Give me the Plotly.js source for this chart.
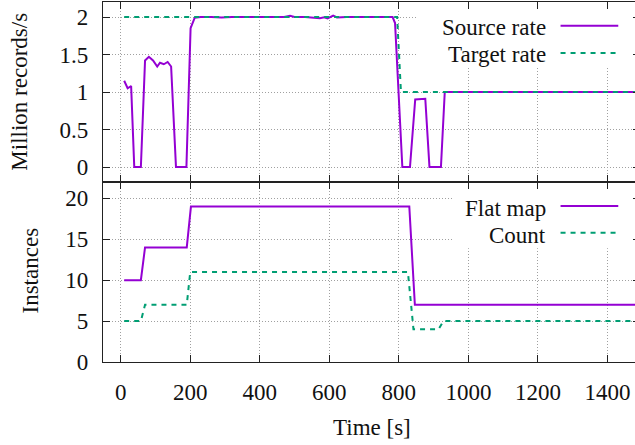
<!DOCTYPE html>
<html>
<head>
<meta charset="utf-8">
<script src="https://cdn.plot.ly/plotly-3.0.1.min.js"></script>
<style>
  html, body { margin: 0; padding: 0; overflow: hidden; background: #fff; }
  #chart { width: 645px; height: 445px; }
</style>
</head>
<body>
<div id="chart"></div>
<script>
// Upper panel: ingestion rates (million records per second)
const sourceTime = [10, 20, 30, 39, 58, 70, 81, 93, 105, 113, 124, 135, 145, 159, 189, 201, 213,
  230, 260, 290, 320, 350, 380, 410, 440, 470, 487, 500, 530, 560, 573, 585, 595, 611, 622,
  650, 680, 710, 740, 770, 782, 789, 810, 832, 847, 876, 888, 921, 932,
  1000, 1100, 1200, 1300, 1400, 1495];
const sourceRate = [1.15, 1.05, 1.08, 0, 0, 1.42, 1.47, 1.42, 1.34, 1.39, 1.37, 1.40, 1.34, 0, 0, 1.85, 1.99,
  2.0, 2.0, 1.995, 2.0, 2.0, 2.0, 1.995, 2.0, 2.0, 2.015, 2.0, 2.0, 1.995, 1.985, 1.995, 1.98, 2.02, 1.995,
  2.0, 2.0, 2.0, 2.0, 2.0, 2.0, 1.92, 0, 0, 0.90, 0.91, 0, 0, 1.0,
  1.0, 1.0, 1.0, 1.0, 1.0, 1.0];
const targetTime = [10, 795, 806, 1495];
const targetRate = [2, 2, 1, 1];

// Lower panel: operator parallelism
const flatMapTime = [10, 58, 70, 190, 202, 830, 846, 1495];
const flatMapInstances = [10, 10, 14, 14, 19, 19, 7, 7];
const countTime = [10, 58, 70, 190, 200, 826, 842, 914, 928, 1495];
const countInstances = [5, 5, 7, 7, 11, 11, 4, 4, 5, 5];

const xTicks = [0, 200, 400, 600, 800, 1000, 1200, 1400];
const rateTicks = [0, 0.5, 1, 1.5, 2];
const rateTickText = ['0', '0.5', '1', '1.5', '2'];
const instanceTicks = [0, 5, 10, 15, 20];

const legendTop = ['Source rate', 'Target rate'];
const legendBottom = ['Flat map', 'Count'];

const PURPLE = '#9400d3';
const GREEN = '#009e73';
const FONT = '"Liberation Serif", "Times New Roman", serif';
const FS = 23;
const DASH = '5px,5px';
const XR = [-50.9, 1493.5];

const traces = [
  { x: sourceTime, y: sourceRate, xaxis: 'x2', yaxis: 'y2', mode: 'lines',
    line: { color: PURPLE, width: 2 }, name: legendTop[0] },
  { x: targetTime, y: targetRate, xaxis: 'x2', yaxis: 'y2', mode: 'lines',
    line: { color: GREEN, width: 2, dash: DASH }, name: legendTop[1] },
  { x: flatMapTime, y: flatMapInstances, xaxis: 'x', yaxis: 'y', mode: 'lines',
    line: { color: PURPLE, width: 2 }, name: legendBottom[0] },
  { x: countTime, y: countInstances, xaxis: 'x', yaxis: 'y', mode: 'lines',
    line: { color: GREEN, width: 2, dash: DASH }, name: legendBottom[1] }
];

const axisCommon = {
  showline: true, linecolor: '#222', linewidth: 1.2, mirror: 'ticks',
  ticks: 'inside', ticklen: 7, tickcolor: '#222', tickwidth: 1,
  showgrid: true, gridcolor: '#a0a0a0', gridwidth: 1, griddash: '1px,2px',
  zeroline: false, tickfont: { family: FONT, size: FS, color: '#111' }
};

const layout = {
  width: 645, height: 445,
  margin: { l: 103, r: 5, t: 2, b: 83 },
  paper_bgcolor: '#fff', plot_bgcolor: '#fff',
  showlegend: false,
  font: { family: FONT, size: FS, color: '#111' },
  xaxis: Object.assign({}, axisCommon, {
    anchor: 'y', range: XR, tickvals: xTicks, ticktext: xTicks.map(String),
    ticklabelstandoff: 9
  }),
  xaxis2: Object.assign({}, axisCommon, {
    anchor: 'y2', matches: 'x', range: XR, tickvals: xTicks, showticklabels: false
  }),
  yaxis: Object.assign({}, axisCommon, {
    domain: [0, 0.5], range: [0, 22], tickvals: instanceTicks,
    ticktext: instanceTicks.map(String), ticklabelstandoff: 9
  }),
  yaxis2: Object.assign({}, axisCommon, {
    domain: [0.5, 1], range: [-0.2, 2.2], tickvals: rateTicks,
    ticktext: rateTickText, ticklabelstandoff: 9
  }),
  shapes: [
    // opaque key boxes hide the grid behind the legend entries
    { type: 'rect', xref: 'x2', yref: 'y2', x0: 852, x1: 1493.5, y0: 1.324, y1: 2.2,
      fillcolor: '#fff', line: { width: 0 }, layer: 'between' },
    { type: 'rect', xref: 'x', yref: 'y', x0: 956, x1: 1493.5, y0: 13.9, y1: 22,
      fillcolor: '#fff', line: { width: 0 }, layer: 'between' },
    // key samples
    { type: 'line', xref: 'x2', yref: 'y2', x0: 1265, x1: 1431, y0: 1.884, y1: 1.884,
      line: { color: PURPLE, width: 2 } },
    { type: 'line', xref: 'x2', yref: 'y2', x0: 1265, x1: 1431, y0: 1.52, y1: 1.52,
      line: { color: GREEN, width: 2, dash: DASH } },
    { type: 'line', xref: 'x', yref: 'y', x0: 1265, x1: 1431, y0: 19.06, y1: 19.06,
      line: { color: PURPLE, width: 2 } },
    { type: 'line', xref: 'x', yref: 'y', x0: 1265, x1: 1431, y0: 15.79, y1: 15.79,
      line: { color: GREEN, width: 2, dash: DASH } }
  ],
  annotations: [
    { text: legendTop[0], xref: 'x2', yref: 'y2', x: 1229, y: 1.857,
      xanchor: 'right', yanchor: 'middle', showarrow: false },
    { text: legendTop[1], xref: 'x2', yref: 'y2', x: 1229, y: 1.497,
      xanchor: 'right', yanchor: 'middle', showarrow: false },
    { text: legendBottom[0], xref: 'x', yref: 'y', x: 1229, y: 18.81,
      xanchor: 'right', yanchor: 'middle', showarrow: false },
    { text: legendBottom[1], xref: 'x', yref: 'y', x: 1229, y: 15.5,
      xanchor: 'right', yanchor: 'middle', showarrow: false },
    // axis titles
    { text: 'Time [s]', xref: 'paper', yref: 'paper', x: 0.5, y: -0.183,
      xanchor: 'center', yanchor: 'middle', showarrow: false },
    { text: 'Million records/s', xref: 'paper', yref: 'paper', x: -0.157, y: 0.75,
      xanchor: 'center', yanchor: 'middle', textangle: -90, showarrow: false },
    { text: 'Instances', xref: 'paper', yref: 'paper', x: -0.135, y: 0.2528,
      xanchor: 'center', yanchor: 'middle', textangle: -90, showarrow: false }
  ]
};

Plotly.newPlot('chart', traces, layout, { staticPlot: true, displayModeBar: false });
</script>
</body>
</html>
